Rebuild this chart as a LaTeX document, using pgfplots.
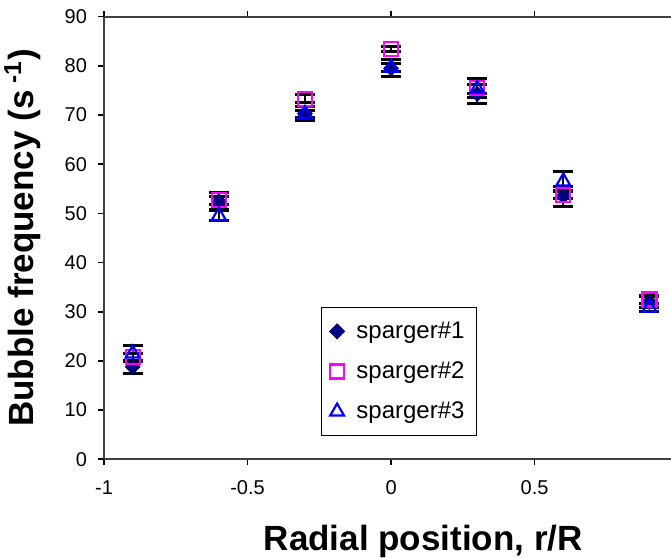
\documentclass[border=0pt]{standalone}
\usepackage{pgfplots}
\pgfplotsset{compat=1.18}
\usepackage{fontspec}
\setmainfont{Liberation Sans}
\definecolor{navy}{RGB}{0,0,128}
\definecolor{magenta2}{RGB}{255,0,255}
\definecolor{blue2}{RGB}{0,0,255}
\begin{document}
\begin{tikzpicture}
\begin{axis}[
  scale only axis,
  width=283.5pt, height=221.3pt,
  xmin=-1, xmax=0.975, ymin=0, ymax=90,
  axis x line*=box, axis y line*=left,
  x axis line style={-}, y axis line style={-},
  axis line style={black!75, line width=0.9pt},
  xtick={-1,-0.5,0,0.5}, xticklabels={-1,-0.5,0,0.5},
  ytick={0,10,...,90},
  tick align=outside, major tick length=3pt,
  tick style={black, line width=0.8pt},
  every tick label/.append style={font=\fontsize{10}{12}\selectfont},
  /pgf/number format/assume math mode=true,
  xticklabel style={yshift=-4pt},
  yticklabel style={xshift=-2pt},
  xlabel={\textbf{Radial position, r/R}},
  ylabel={\textbf{Bubble frequency (s\textsuperscript{ -1})}},
  label style={font=\fontsize{17.5}{20}\selectfont},
  xlabel style={at={(axis description cs:0.563,0)}, yshift=-29.5pt},
  ylabel style={yshift=5pt},
  clip=false,
  legend cell align=left,
  legend style={at={(rel axis cs:0.383,0.344)}, anchor=north west,
    draw=black, line width=0.6pt, font=\fontsize{12}{14}\selectfont,
    row sep=6.2pt, inner xsep=4pt, inner ysep=5pt},
  error bars/y dir=both, error bars/y explicit,
  error bars/error bar style={black, line width=0.9pt},
  error bars/error mark options={rotate=90, mark size=5pt, black, line width=1.5pt},
]
\addplot[only marks, mark=square*, mark size=2.6pt, draw=navy, fill=navy,
  mark options={solid, rotate=45}]
  table[x=x, y=y, y error=e] {
x y e
-0.9 18.8 1.3
-0.6 52.5 1.7
-0.3 70.3 1.5
0 79.5 1.7
0.3 74.3 2.0
0.6 53.5 2.0
0.9 32.0 1.2
};
\addlegendentry{\hspace{4pt}sparger\#1}
\addplot[only marks, mark=square, mark size=3.5pt, draw=magenta2,
  mark options={solid, line width=1.1pt}]
  table[x=x, y=y, y error=e] {
x y e
-0.9 20.8 0.8
-0.6 52.7 0.8
-0.3 73.3 0.8
0 83.5 0.5
0.3 75.5 2.0
0.6 53.8 0.8
0.9 32.5 0.8
};
\addlegendentry{\hspace{4pt}sparger\#2}
\addplot[only marks, mark=triangle, mark size=4pt, draw=blue2,
  mark options={solid, line width=1.1pt}]
  table[x=x, y=y, y error=e] {
x y e
-0.9 21.5 1.6
-0.6 49.5 1.0
-0.3 70.2 0.8
0 79.6 0.8
0.3 75.3 1.0
0.6 56.5 2.0
0.9 30.8 0.8
};
\addlegendentry{\hspace{4pt}sparger\#3}
\path (rel axis cs:0,0) ++(-52pt,-49.35pt) coordinate (bbsw);
\path (rel axis cs:1,1) ++(0pt,8.35pt) coordinate (bbne);
\end{axis}
\pgfresetboundingbox
\useasboundingbox (bbsw) rectangle (bbne);
\end{tikzpicture}
\end{document}
